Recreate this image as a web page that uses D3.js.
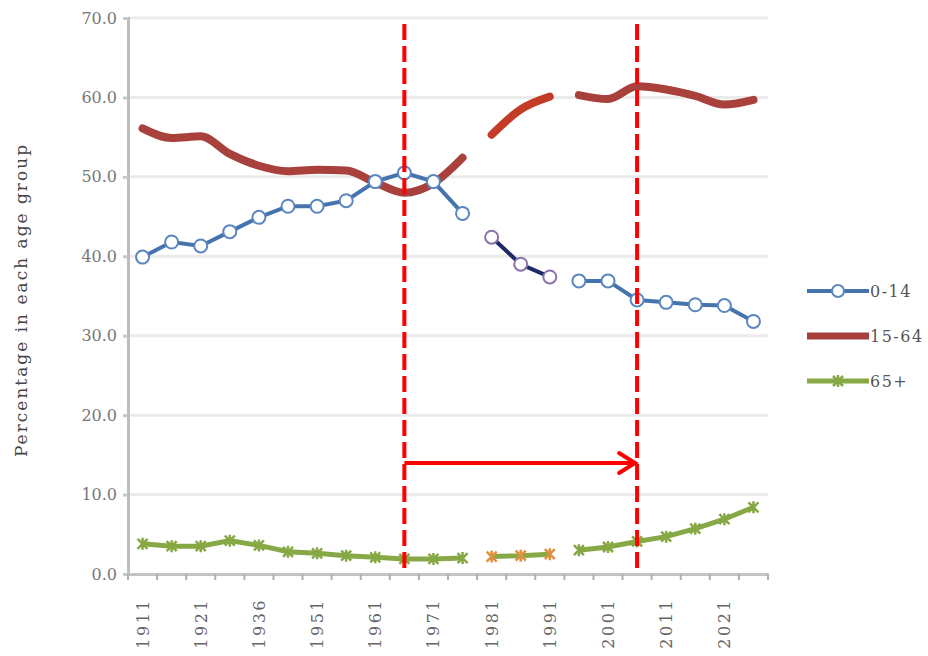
<!DOCTYPE html>
<html><head><meta charset="utf-8">
<script src="https://cdn.jsdelivr.net/npm/d3@7"></script>
<style>body{margin:0;background:#fff}svg{display:block}</style>
</head><body>
<svg id="c" width="928" height="656"></svg>
<script>
const years = ["1911","1916","1921","1931","1936","1946","1951","1956","1961","1966","1971","1976","1981","1986","1991","1996","2001","2006","2011","2016","2021","2026"];
const tickLabels = ["1911","1921","1936","1951","1961","1971","1981","1991","2001","2011","2021"];
const yTicks = [0,10,20,30,40,50,60,70];
// segments: null = gap
const age0_14 = [39.9,41.8,41.3,43.1,44.9,46.3,46.3,47.0,49.4,50.5,49.4,45.4,null,null,null,36.9,36.9,34.5,34.2,33.9,33.8,31.8];
const age0_14b = [null,null,null,null,null,null,null,null,null,null,null,null,42.4,39.0,37.4,null,null,null,null,null,null,null];
const age15_64 = [56.1,54.9,55.1,52.9,51.4,50.7,50.9,50.8,49.3,48.0,49.2,52.4,null,null,null,60.3,59.8,61.4,61.0,60.2,59.1,59.7];
const age15_64b = [null,null,null,null,null,null,null,null,null,null,null,null,55.3,58.5,60.1,null,null,null,null,null,null,null];
const age65 = [3.8,3.5,3.5,4.2,3.6,2.8,2.6,2.3,2.1,1.9,1.9,2.0,null,null,null,3.0,3.4,4.1,4.7,5.7,6.9,8.4];
const age65b = [null,null,null,null,null,null,null,null,null,null,null,null,2.2,2.3,2.5,null,null,null,null,null,null,null];
const legendNames = ["0-14","15-64","65+"];
const markYears = ["1966","2006"];

const svg = d3.select("#c");
const L=128,R=768,T=18,B=574;
const x = d3.scaleBand().domain(years).range([L,R]);
const y = d3.scaleLinear().domain([0,70]).range([B,T]);
const cx = d => x(d)+x.bandwidth()/2;
const font = "'DejaVu Serif','Liberation Serif',serif";

// grid
svg.append("g").selectAll("line").data(yTicks.filter(v=>v>0)).join("line")
  .attr("x1",L).attr("x2",R).attr("y1",d=>y(d)).attr("y2",d=>y(d))
  .attr("stroke","#ebebeb").attr("stroke-width",3);

// y axis
const ya = svg.append("g").attr("transform",`translate(${L},0)`)
  .call(d3.axisLeft(y).tickValues(yTicks).tickFormat(d3.format(".1f")).tickSize(5).tickPadding(6));
ya.select(".domain").attr("stroke","#bdbdbd").attr("stroke-width",3);
ya.selectAll(".tick line").attr("stroke","#c8c8c8").attr("stroke-width",3);
ya.selectAll("text").attr("font-family",font).attr("font-size",16).attr("fill","#777");

// x axis
const xa = svg.append("g").attr("transform",`translate(0,${B})`)
  .call(d3.axisBottom(x).tickValues([]).tickSizeOuter(0));
xa.select(".domain").attr("stroke","#c4c4c4").attr("stroke-width",3);
const bounds = d3.range(years.length+1).map(i=>L+i*x.bandwidth());
xa.selectAll(".bt").data(bounds).join("line").attr("class","bt")
  .attr("x1",d=>d).attr("x2",d=>d).attr("y1",0).attr("y2",6)
  .attr("stroke","#b0b0b0").attr("stroke-width",2);
xa.selectAll(".xl").data(tickLabels).join("text").attr("class","xl")
  .attr("transform",d=>`translate(${cx(d)+6},${24}) rotate(-90)`)
  .attr("text-anchor","end").attr("font-family",font).attr("font-size",16).attr("letter-spacing",2.5).attr("fill","#666")
  .text(d=>d);

// y title
svg.append("text").attr("transform",`translate(27,${300}) rotate(-90)`)
  .attr("text-anchor","middle").attr("font-family",font).attr("font-size",17).attr("letter-spacing",2).attr("fill","#444")
  .text("Percentage in each age group");

const line = d3.line().defined(d=>d.v!=null).x(d=>cx(d.k)).y(d=>y(d.v)).curve(d3.curveMonotoneX);
const lin = d3.line().defined(d=>d.v!=null).x(d=>cx(d.k)).y(d=>y(d.v));
const pts = arr => arr.map((v,i)=>({k:years[i],v}));

// 15-64
svg.append("path").attr("d",line(pts(age15_64))).attr("fill","none").attr("stroke","#a8403c").attr("stroke-width",8).attr("stroke-linecap","round");
svg.append("path").attr("d",line(pts(age15_64b))).attr("fill","none").attr("stroke","#c43c28").attr("stroke-width",8).attr("stroke-linecap","round");

// 0-14
svg.append("path").attr("d",lin(pts(age0_14))).attr("fill","none").attr("stroke","#4573ad").attr("stroke-width",4);
svg.append("path").attr("d",lin(pts(age0_14b))).attr("fill","none").attr("stroke","#1c2a66").attr("stroke-width",4);
svg.append("g").selectAll("circle").data(pts(age0_14).filter(d=>d.v!=null)).join("circle")
  .attr("cx",d=>cx(d.k)).attr("cy",d=>y(d.v)).attr("r",6.5).attr("fill","#fff").attr("stroke","#5b86bf").attr("stroke-width",2);
svg.append("g").selectAll("circle").data(pts(age0_14b).filter(d=>d.v!=null)).join("circle")
  .attr("cx",d=>cx(d.k)).attr("cy",d=>y(d.v)).attr("r",6.5).attr("fill","#fff").attr("stroke","#8a72a8").attr("stroke-width",2);

// 65+
function star(g,data,color){
  const s=g.selectAll("g").data(data.filter(d=>d.v!=null)).join("g")
    .attr("transform",d=>`translate(${cx(d.k)},${y(d.v)})`);
  s.append("path").attr("d","M-5,-5L5,5M-5,5L5,-5M0,-6L0,6").attr("stroke",color).attr("stroke-width",2.5).attr("fill","none");
}
svg.append("path").attr("d",lin(pts(age65))).attr("fill","none").attr("stroke","#86a845").attr("stroke-width",5);
svg.append("path").attr("d",lin(pts(age65b))).attr("fill","none").attr("stroke","#86a845").attr("stroke-width",5);
star(svg.append("g"),pts(age65),"#86a845");
star(svg.append("g"),pts(age65b),"#e0913f");

// red dashed markers and arrow
svg.append("g").selectAll("line").data(markYears).join("line")
  .attr("x1",d=>cx(d)).attr("x2",d=>cx(d)).attr("y1",24).attr("y2",B-2)
  .attr("stroke","#ff0000").attr("stroke-width",4).attr("stroke-dasharray","16,6");
const ay = 463, ax1=cx(markYears[0]), ax2=cx(markYears[1]);
svg.append("line").attr("x1",ax1).attr("x2",ax2-3).attr("y1",ay).attr("y2",ay).attr("stroke","#ff0000").attr("stroke-width",4);
svg.append("path").attr("d",`M${ax2-18},${ay-10}L${ax2-2},${ay}L${ax2-18},${ay+10}`).attr("fill","none").attr("stroke","#ff0000").attr("stroke-width",4).attr("stroke-linecap","round");

// legend
const lg = svg.append("g").attr("transform","translate(807,291)");
const lcol = ["#4573ad","#a8403c","#86a845"];
legendNames.forEach((n,i)=>{
  const g=lg.append("g").attr("transform",`translate(0,${i*45})`);
  g.append("line").attr("x1",0).attr("x2",62).attr("stroke",lcol[i]).attr("stroke-width",i===1?7:(i===0?4:5));
  if(i===0) g.append("circle").attr("cx",31).attr("r",6).attr("fill","#fff").attr("stroke","#5b86bf").attr("stroke-width",2);
  if(i===2) g.append("path").attr("d","M26,-5L36,5M26,5L36,-5M31,-6L31,6").attr("stroke","#86a845").attr("stroke-width",2.5);
  g.append("text").attr("x",63).attr("y",6).attr("font-family",font).attr("font-size",16).attr("letter-spacing",1.5).attr("fill","#555").text(n);
});
</script>
</body></html>
